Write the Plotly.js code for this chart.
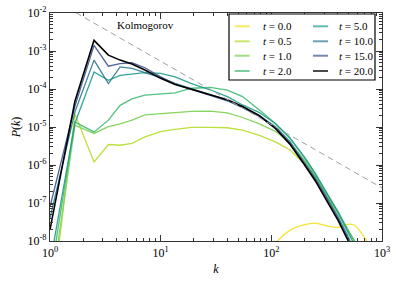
<!DOCTYPE html>
<html><head><meta charset="utf-8">
<script src="https://cdn.plot.ly/plotly-3.0.1.min.js"></script>
<style>html,body{margin:0;padding:0;background:#fff}</style>
</head><body><div id="chart" style="width:398px;height:282px"></div>
<script>
// wavenumbers
const k = [1, 1.68, 2.5, 3.37, 4.3, 5.5, 7.2, 10, 13.5, 19, 28, 40, 55, 78, 110, 147, 200, 250, 318, 400, 490, 560, 640, 730, 850];
// log10 of P(k), one array per time
const logP_t00 = [null, null, null, null, null, null, null, null, null, null, null, null, null, -8.8, -8.05, -7.72, -7.57, -7.53, -7.6, -7.64, -7.56, -7.58, -7.76, -8.02, -8.6];
const logP_t05 = [-10, -4.66, -5.92, -5.46, -5.48, -5.43, -5.26, -5.12, -5.06, -5.01, -5.01, -5.02, -5.08, -5.22, -5.4, -5.6, -5.98, -6.35, -6.83, -7.27, -7.7, -7.98, -8.35, -8.8, -9.5];
const logP_t10 = [-9.5, -4.95, -5.17, -4.99, -4.92, -4.82, -4.68, -4.65, -4.62, -4.59, -4.58, -4.63, -4.75, -4.92, -5.12, -5.42, -5.88, -6.28, -6.78, -7.24, -7.7, -7.98, -8.35, -8.8, -9.5];
const logP_t20 = [-9.0, -4.87, -5.13, -4.82, -4.43, -4.26, -4.16, -4.12, -4.1, -3.98, -3.96, -4.03, -4.2, -4.55, -4.92, -5.3, -5.82, -6.24, -6.75, -7.22, -7.7, -8.0, -8.4, -8.85, -9.5];
const logP_t50 = [-8.6, -4.9, -3.55, -3.77, -3.64, -3.6, -3.57, -3.59, -3.68, -3.86, -4.02, -4.2, -4.42, -4.62, -4.92, -5.28, -5.8, -6.22, -6.75, -7.25, -7.76, -8.08, -8.5, -9.0, -9.7];
const logP_t100 = [-7.4, -4.6, -3.24, -3.86, -3.42, -3.46, -3.57, -3.70, -3.85, -4.0, -4.15, -4.3, -4.47, -4.7, -5.0, -5.38, -5.92, -6.33, -6.85, -7.35, -7.86, -8.2, -8.6, -9.1, -9.8];
const logP_t150 = [-7.1, -4.45, -2.85, -3.40, -3.33, -3.31, -3.44, -3.68, -3.87, -4.02, -4.17, -4.31, -4.49, -4.72, -5.04, -5.42, -5.97, -6.38, -6.9, -7.4, -7.92, -8.25, -8.65, -9.15, -9.9];
const logP_t200 = [-7.7, -4.32, -2.72, -3.11, -3.24, -3.34, -3.50, -3.72, -3.88, -4.0, -4.14, -4.28, -4.46, -4.7, -5.05, -5.45, -6.0, -6.42, -6.95, -7.45, -7.97, -8.3, -8.7, -9.2, -9.9];

const timeLabels = ['0.0', '0.5', '1.0', '2.0', '5.0', '10.0', '15.0', '20.0'];
const seriesLog = [logP_t00, logP_t05, logP_t10, logP_t20, logP_t50, logP_t100, logP_t150, logP_t200];
const colors = ['#f4e21f', '#b5de2b', '#7ad151', '#3fbc73', '#1f9e89', '#2e7b8f', '#3e5391', '#000000'];

// Kolmogorov k^(-5/3) reference line endpoints
const kolmK = [1, 1000];
const kolmP = [2.5e-2, 2.5e-7];

const xTickVals = [1, 10, 100, 1000];
const xTickText = ['10<sup>0</sup>', '10<sup>1</sup>', '10<sup>2</sup>', '10<sup>3</sup>'];
const yTickVals = [1e-8, 1e-7, 1e-6, 1e-5, 1e-4, 1e-3, 1e-2];
const yTickText = ['10<sup>-8</sup>', '10<sup>-7</sup>', '10<sup>-6</sup>', '10<sup>-5</sup>', '10<sup>-4</sup>', '10<sup>-3</sup>', '10<sup>-2</sup>'];

const FONT = "'Liberation Serif', 'DejaVu Serif', serif";
const L = 50, T = 13, W = 332, H = 228;
const px = x => (x - L) / W;
const py = y => (T + H - y) / H;

const traces = [];
seriesLog.forEach((s, i) => {
  traces.push({
    x: k, y: s.map(v => v === null ? null : Math.pow(10, v)),
    type: 'scatter', mode: 'lines', showlegend: false, hoverinfo: 'skip',
    line: {color: colors[i], width: i === 7 ? 1.6 : 1.3, shape: i === 0 ? 'spline' : 'linear'},
    opacity: i === 7 ? 1 : 0.9
  });
});
traces.push({
  x: kolmK, y: kolmP, type: 'scatter', mode: 'lines', showlegend: false, hoverinfo: 'skip',
  line: {color: '#a0a0a0', width: 1, dash: '6px,4px'}
});

// minor tick positions (2..9 within each decade)
const minorX = [], minorY = [];
for (let d = 0; d < 3; d++) for (let m = 2; m <= 9; m++) minorX.push(m * Math.pow(10, d));
for (let d = -8; d < -2; d++) for (let m = 2; m <= 9; m++) minorY.push(m * Math.pow(10, d));

// manual legend (two columns)
const rowsY = [26.3, 41.3, 55.7, 71];
const colLineX = [234.7, 313];
const colTextX = [261.3, 337.3];
const shapes = [{
  type: 'rect', xref: 'paper', yref: 'paper',
  x0: px(229), x1: px(375), y0: py(80), y1: py(14),
  line: {color: '#000', width: 1.2}, fillcolor: 'rgba(255,255,255,1)', layer: 'above'
}];
const annotations = [{
  xref: 'paper', yref: 'paper', x: px(145), y: py(25), text: 'Kolmogorov',
  showarrow: false, font: {family: FONT, size: 11, color: '#000'}, xanchor: 'center', yanchor: 'middle'
}];
timeLabels.forEach((t, i) => {
  const col = Math.floor(i / 4), row = i % 4;
  shapes.push({
    type: 'line', xref: 'paper', yref: 'paper',
    x0: px(colLineX[col]), x1: px(colLineX[col] + 15), y0: py(rowsY[row]), y1: py(rowsY[row]),
    line: {color: colors[i], width: 2}, opacity: 0.7, layer: 'above'
  });
  annotations.push({
    xref: 'paper', yref: 'paper', x: px(colTextX[col]), y: py(rowsY[row]),
    text: '<i>t</i> = ' + t, showarrow: false, xanchor: 'left', yanchor: 'middle',
    font: {family: FONT, size: 11, color: '#000'}
  });
});

const axisCommon = {
  type: 'log', showgrid: false, zeroline: false,
  showline: true, linecolor: '#333', linewidth: 1.3, mirror: 'ticks',
  ticks: 'inside', ticklen: 6, tickwidth: 1, tickcolor: '#333',
  tickmode: 'array', tickfont: {family: FONT, size: 12, color: '#000'}
};

const layout = {
  width: 398, height: 282,
  margin: {l: L, r: 398 - L - W, t: T, b: 282 - T - H, autoexpand: false},
  paper_bgcolor: '#fff', plot_bgcolor: '#fff',
  font: {family: FONT, size: 12, color: '#000'},
  xaxis: Object.assign({}, axisCommon, {
    range: [0, 3], tickvals: xTickVals, ticktext: xTickText,
    minor: {tickmode: 'array', tickvals: minorX, ticks: 'inside', ticklen: 3, tickcolor: '#333', showgrid: false},
    title: {text: '<i>k</i>', font: {family: FONT, size: 12}, standoff: 6}
  }),
  yaxis: Object.assign({}, axisCommon, {
    range: [-8, -2], tickvals: yTickVals, ticktext: yTickText,
    minor: {tickmode: 'array', tickvals: minorY, ticks: 'inside', ticklen: 3, tickcolor: '#333', showgrid: false},
    title: {text: '<i>P</i>(<i>k</i>)', font: {family: FONT, size: 12}, standoff: 4}
  }),
  shapes: shapes,
  annotations: annotations,
  showlegend: false
};

Plotly.newPlot('chart', traces, layout, {displayModeBar: false});
</script>
</body></html>
